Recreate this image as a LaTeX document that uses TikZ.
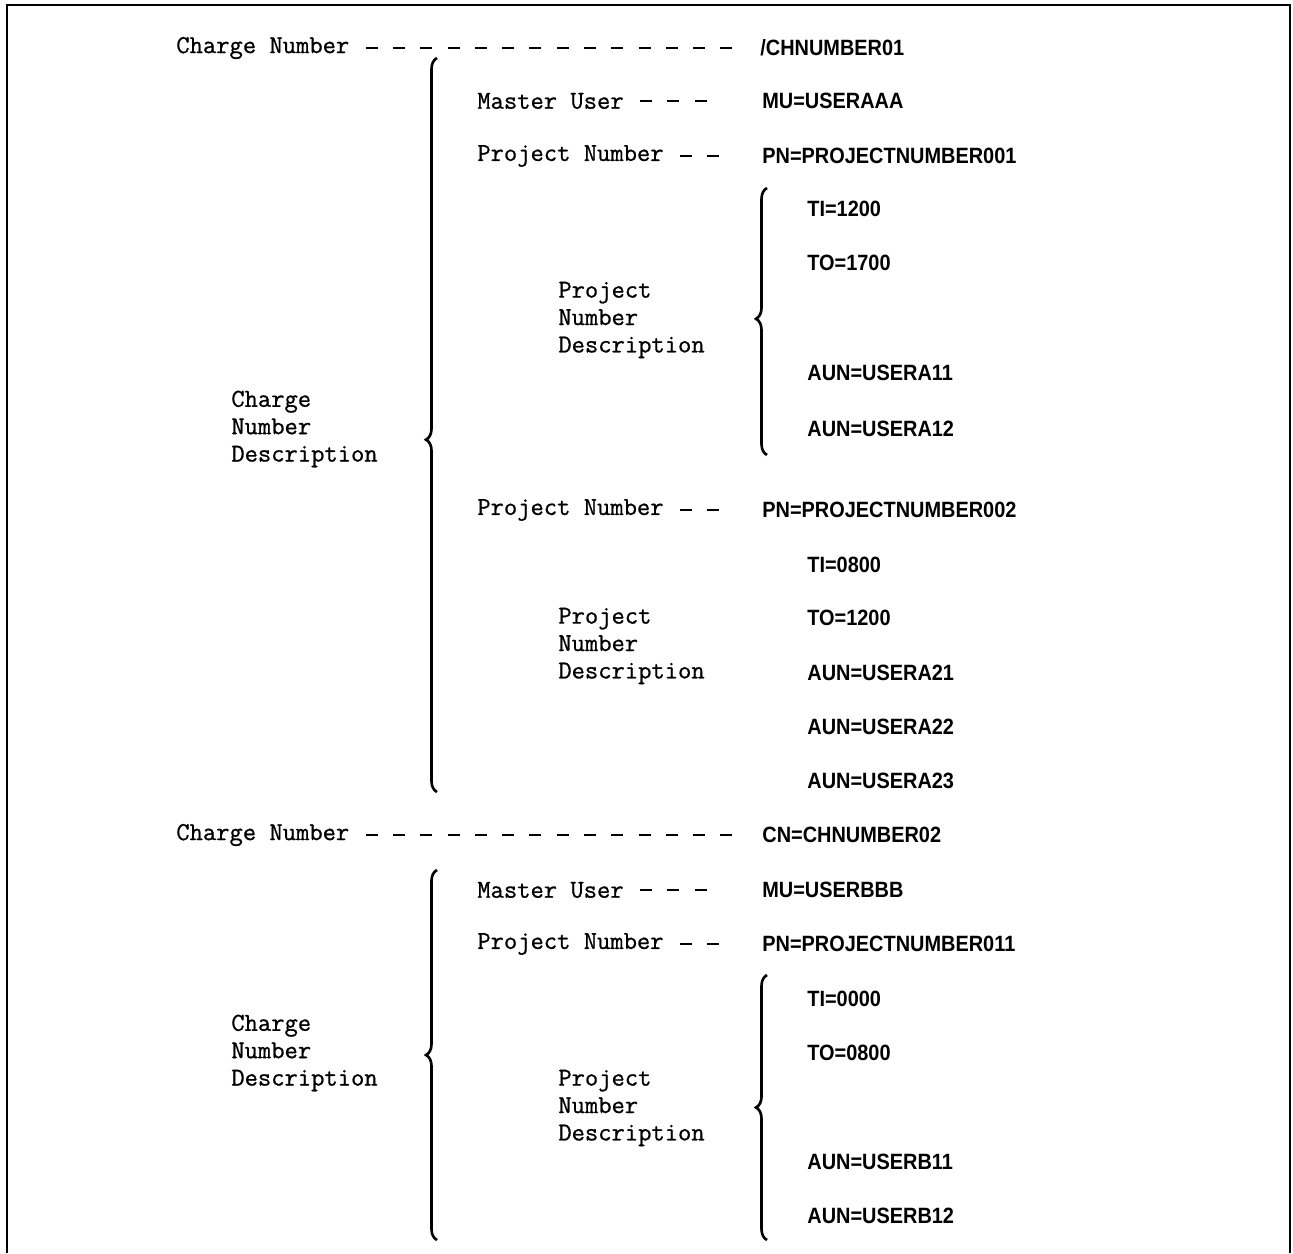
\documentclass[tikz,border=0pt]{standalone}
\usepackage{fontspec}
\newfontfamily\lblfont{Latin Modern Mono}[FakeBold=0.8]
\newfontfamily\valfont{Liberation Sans}[FakeStretch=0.9]
\usetikzlibrary{decorations.pathreplacing}

\tikzset{
	lbl/.style={anchor=west, inner sep=0pt, align=left, font=\lblfont\fontsize{14.7}{15.6}\selectfont},
	val/.style={anchor=west, inner sep=0pt, font=\valfont\bfseries\fontsize{12.6}{14}\selectfont},
	leader/.style={line width=1.3pt, dash pattern=on 0.24cm off 0.306cm, shorten <=0.32cm, shorten >=#1},
	bigbrace/.style={line width=1.5pt, decorate, decoration={brace, amplitude=0.22cm, aspect=#1}},
	frame/.style={line width=1.2pt}
}

\begin{document}
\begin{tikzpicture}[x=0.02cm, y=-0.02cm]
					\useasboundingbox (0,0) rectangle (1293,1253);
					\draw[frame] (7,1253) -- (7,5) -- (1290,5) -- (1290,1253);
					
					\coordinate (b1top) at (437,58);
					\coordinate (b1bot) at (437,792);
					\coordinate (b2top) at (767,188);
					\coordinate (b2bot) at (767,455);
					\coordinate (b3top) at (437,870);
					\coordinate (b3bot) at (437,1240);
					\coordinate (b4top) at (767,975);
					\coordinate (b4bot) at (767,1240);
					
					\draw[bigbrace=0.48] (b1bot) -- (b1top);
					\draw[bigbrace=0.51] (b2bot) -- (b2top);
					\draw[bigbrace=0.5] (b3bot) -- (b3top);
					\draw[bigbrace=0.5] (b4bot) -- (b4top);
					
					\node[lbl] (cn1) at (176,48) {Charge Number};
					\node[val] (cnv1) at (760,48) {/CHNUMBER01};
					\draw[leader=0.48cm] (cn1.east) -- (cnv1.west);
					
					\node[lbl] (mu1) at (477,101) {Master User};
					\node[val] (muv1) at (762,101) {MU=USERAAA};
					\draw[leader=1cm] (mu1.east) -- (muv1.west);
					
					\node[lbl] (pn1) at (477,156) {Project Number};
					\node[val] (pnv1) at (762,156) {PN=PROJECTNUMBER001};
					\draw[leader=0.7cm] (pn1.east) -- (pnv1.west);
					
					\node[lbl] (pnd1) at (558,320) {Project\\Number\\Description};
					\node[val] (ti1) at (807,209) {TI=1200};
					\node[val] (to1) at (807,263) {TO=1700};
					\node[val] (aun11) at (807,373) {AUN=USERA11};
					\node[val] (aun12) at (807,429) {AUN=USERA12};
					
					\node[lbl] (cnd1) at (231,429) {Charge\\Number\\Description};
					
					\node[lbl] (pn2) at (477,510) {Project Number};
					\node[val] (pnv2) at (762,510) {PN=PROJECTNUMBER002};
					\draw[leader=0.7cm] (pn2.east) -- (pnv2.west);
					
					\node[lbl] (pnd2) at (558,646) {Project\\Number\\Description};
					\node[val] (ti2) at (807,565) {TI=0800};
					\node[val] (to2) at (807,618) {TO=1200};
					\node[val] (aun21) at (807,673) {AUN=USERA21};
					\node[val] (aun22) at (807,727) {AUN=USERA22};
					\node[val] (aun23) at (807,781) {AUN=USERA23};
					
					\node[lbl] (cn2) at (176,835) {Charge Number};
					\node[val] (cnv2) at (762,835) {CN=CHNUMBER02};
					\draw[leader=0.52cm] (cn2.east) -- (cnv2.west);
					
					\node[lbl] (mu2) at (477,890) {Master User};
					\node[val] (muv2) at (762,890) {MU=USERBBB};
					\draw[leader=1cm] (mu2.east) -- (muv2.west);
					
					\node[lbl] (pn3) at (477,944) {Project Number};
					\node[val] (pnv3) at (762,944) {PN=PROJECTNUMBER011};
					\draw[leader=0.7cm] (pn3.east) -- (pnv3.west);
					
					\node[lbl] (cnd2) at (231,1053) {Charge\\Number\\Description};
					
					\node[lbl] (pnd3) at (558,1108) {Project\\Number\\Description};
					\node[val] (ti3) at (807,999) {TI=0000};
					\node[val] (to3) at (807,1053) {TO=0800};
					\node[val] (aun31) at (807,1162) {AUN=USERB11};
					\node[val] (aun32) at (807,1216) {AUN=USERB12};
				\end{tikzpicture}
\end{document}
